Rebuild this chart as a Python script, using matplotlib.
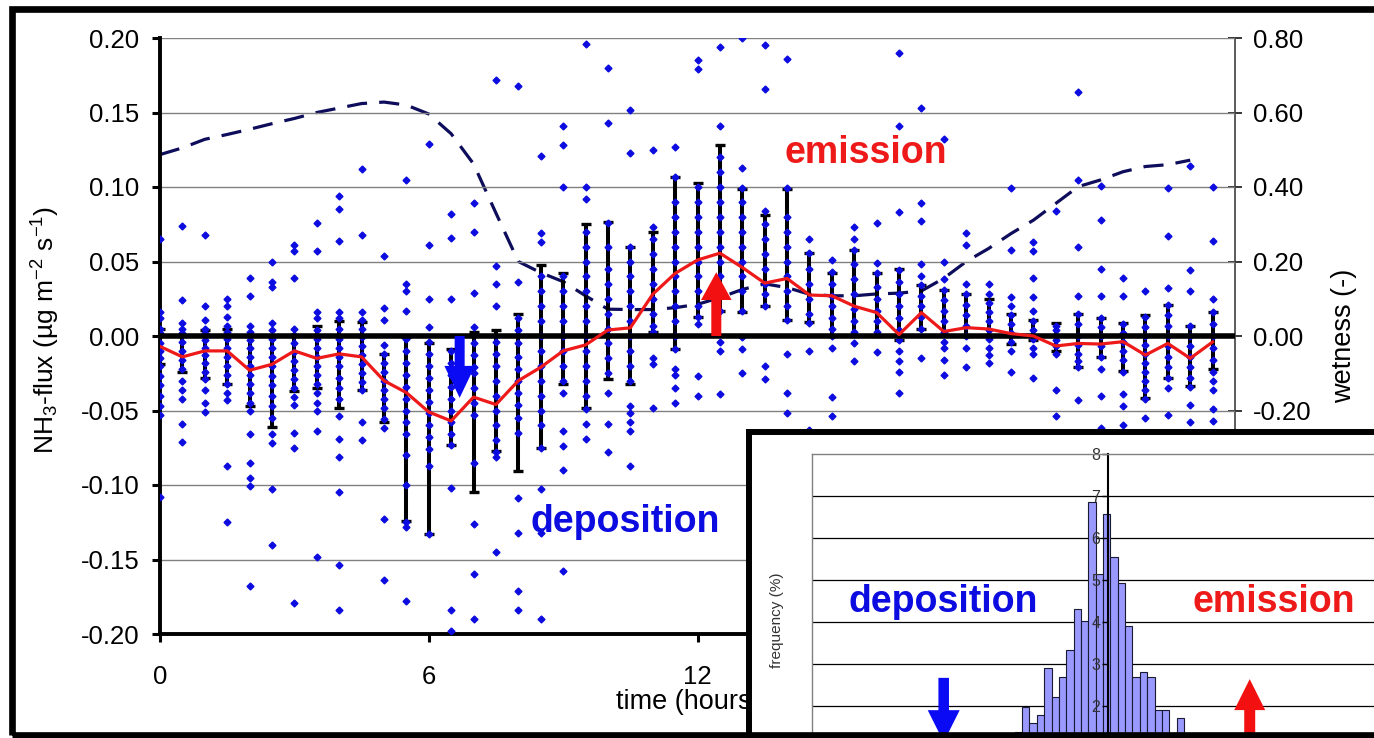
import numpy as np
import matplotlib.pyplot as plt
from matplotlib.ticker import FormatStrFormatter
from matplotlib.patches import Rectangle

plt.rcParams['font.family'] = ['Liberation Sans', 'DejaVu Sans']
plt.rcParams['mathtext.fontset'] = 'custom'
plt.rcParams['mathtext.rm'] = 'Liberation Sans'
plt.rcParams['mathtext.it'] = 'Liberation Sans:italic'

W, H = 1374, 738

# half-hourly time slots (hours)
times = np.arange(0, 24, 0.5)

# mean NH3 flux per half hour (red line)
flux_mean = [-0.007, -0.014, -0.010, -0.010, -0.023, -0.019, -0.010, -0.015, -0.012, -0.014,
             -0.030, -0.038, -0.051, -0.057, -0.041, -0.046, -0.030, -0.021, -0.010, -0.006,
             0.004, 0.0055, 0.028, 0.042, 0.051, 0.0556, 0.046, 0.0355, 0.0386, 0.0275,
             0.027, 0.020, 0.0157, 0.001, 0.0157, 0.003, 0.0056, 0.0047, 0.0016, 0.0,
             -0.0067, -0.005, -0.0054, -0.0038, -0.0128, -0.005, -0.015, -0.004]

# error bar ends
err_hi = [0.005, 0.0, 0.004, 0.005, 0.0, 0.0, 0.0, 0.007, 0.010, 0.0095,
          -0.012, -0.001, -0.005, -0.009, 0.003, 0.004, 0.0146, 0.0475, 0.042, 0.075,
          0.0765, 0.0595, 0.0695, 0.107, 0.1026, 0.128, 0.0987, 0.081, 0.0987, 0.0555,
          0.0425, 0.058, 0.042, 0.0447, 0.034, 0.031, 0.028, 0.0245, 0.015, 0.011,
          0.009, 0.0147, 0.0123, 0.0085, 0.014, 0.021, 0.007, 0.016]
err_lo = [-0.019, -0.024, -0.028, -0.032, -0.047, -0.061, -0.037, -0.035, -0.048, -0.036,
          -0.058, -0.124, -0.133, -0.073, -0.105, -0.0775, -0.0906, -0.0755, -0.032, -0.0486,
          -0.029, -0.032, 0.003, -0.009, 0.0125, 0.017, 0.016, 0.020, 0.0105, 0.0096,
          0.0, 0.0, 0.0, -0.003, 0.005, 0.001, 0.0, 0.0, -0.0055, -0.003,
          -0.010, -0.0207, -0.0143, -0.0234, -0.0415, -0.0283, -0.0333, -0.0221]

# canopy wetness (right axis, dashed)
wetness = [0.487, 0.505, 0.528, 0.541, 0.555, 0.570, 0.584, 0.600, 0.612, 0.624,
           0.628, 0.620, 0.596, 0.543, 0.462, 0.330, 0.200, 0.170, 0.146, 0.108,
           0.072, 0.071, 0.071, 0.076, 0.085, 0.103, 0.125, 0.140, 0.130, 0.112,
           0.108, 0.108, 0.113, 0.115, 0.121, 0.155, 0.200, 0.235, 0.275, 0.311,
           0.356, 0.401, 0.419, 0.441, 0.455, 0.460, 0.472, np.nan]

# individual flux measurements per half hour
flux_pts = [
    [0.065, 0.016, 0.012, 0.005, 0.002, -0.005, -0.010, -0.015, -0.020, -0.027, -0.033, -0.040, -0.047, -0.053, -0.108],
    [0.074, 0.024, 0.009, 0.005, 0.002, -0.004, -0.010, -0.016, -0.022, -0.030, -0.036, -0.042, -0.059, -0.071],
    [0.068, 0.020, 0.011, 0.005, 0.002, -0.003, -0.008, -0.013, -0.018, -0.024, -0.029, -0.036, -0.045, -0.051],
    [0.025, 0.020, 0.013, 0.007, 0.003, -0.002, -0.008, -0.014, -0.020, -0.026, -0.032, -0.038, -0.043, -0.087, -0.125],
    [0.039, 0.027, 0.007, 0.003, -0.003, -0.008, -0.014, -0.020, -0.026, -0.032, -0.038, -0.045, -0.050, -0.066, -0.085, -0.095, -0.101, -0.168],
    [0.050, 0.036, 0.033, 0.009, 0.004, -0.002, -0.008, -0.014, -0.020, -0.027, -0.033, -0.040, -0.047, -0.055, -0.066, -0.072, -0.103, -0.140],
    [0.061, 0.057, 0.039, 0.005, 0.001, -0.005, -0.011, -0.017, -0.023, -0.029, -0.035, -0.041, -0.046, -0.065, -0.075, -0.179],
    [0.076, 0.057, 0.016, 0.012, 0.004, -0.002, -0.008, -0.014, -0.020, -0.026, -0.032, -0.038, -0.045, -0.050, -0.064, -0.148],
    [0.094, 0.085, 0.064, 0.016, 0.012, 0.005, -0.002, -0.008, -0.014, -0.020, -0.028, -0.035, -0.042, -0.054, -0.069, -0.081, -0.105, -0.154, -0.184],
    [0.112, 0.068, 0.016, 0.011, 0.005, -0.001, -0.007, -0.013, -0.019, -0.025, -0.031, -0.036, -0.058, -0.070],
    [0.054, 0.019, 0.011, -0.006, -0.012, -0.018, -0.024, -0.030, -0.036, -0.042, -0.048, -0.056, -0.062, -0.123, -0.164],
    [0.105, 0.035, 0.030, 0.017, -0.002, -0.010, -0.018, -0.026, -0.034, -0.042, -0.050, -0.058, -0.066, -0.080, -0.100, -0.125, -0.128, -0.178],
    [0.129, 0.061, 0.025, 0.006, -0.004, -0.012, -0.020, -0.028, -0.036, -0.044, -0.052, -0.060, -0.068, -0.076, -0.087, -0.133],
    [0.082, 0.066, 0.025, -0.010, -0.018, -0.026, -0.034, -0.042, -0.050, -0.058, -0.066, -0.073, -0.102, -0.184, -0.198],
    [0.089, 0.070, 0.029, 0.006, -0.005, -0.013, -0.021, -0.025, -0.035, -0.045, -0.053, -0.085, -0.126, -0.160, -0.190],
    [0.172, 0.047, 0.035, 0.020, -0.004, -0.012, -0.020, -0.030, -0.040, -0.050, -0.060, -0.070, -0.078, -0.081, -0.145],
    [0.168, 0.036, 0.012, 0.004, -0.005, -0.014, -0.022, -0.030, -0.038, -0.046, -0.055, -0.065, -0.109, -0.132, -0.171, -0.184],
    [0.121, 0.069, 0.063, 0.040, 0.030, 0.020, 0.010, 0.000, -0.010, -0.020, -0.030, -0.040, -0.050, -0.060, -0.075, -0.103, -0.132, -0.190],
    [0.141, 0.128, 0.100, 0.040, 0.030, 0.020, 0.010, 0.000, -0.010, -0.020, -0.030, -0.038, -0.064, -0.074, -0.090, -0.158],
    [0.196, 0.100, 0.092, 0.070, 0.060, 0.050, 0.040, 0.030, 0.020, 0.010, 0.000, -0.010, -0.020, -0.030, -0.040, -0.049, -0.059, -0.069],
    [0.180, 0.143, 0.076, 0.060, 0.045, 0.035, 0.025, 0.015, 0.005, -0.005, -0.015, -0.025, -0.038, -0.059, -0.078],
    [0.152, 0.123, 0.060, 0.050, 0.040, 0.030, 0.020, 0.010, 0.000, -0.010, -0.020, -0.030, -0.047, -0.052, -0.058, -0.064, -0.087],
    [0.125, 0.073, 0.065, 0.055, 0.045, 0.035, 0.025, 0.015, 0.007, 0.003, -0.015, -0.019, -0.048],
    [0.127, 0.107, 0.090, 0.080, 0.070, 0.060, 0.050, 0.040, 0.030, 0.020, 0.010, 0.000, -0.009, -0.022, -0.026, -0.035, -0.045],
    [0.185, 0.179, 0.100, 0.090, 0.080, 0.070, 0.060, 0.050, 0.040, 0.030, 0.020, 0.013, 0.008, -0.027, -0.040],
    [0.194, 0.141, 0.120, 0.110, 0.100, 0.090, 0.080, 0.070, 0.060, 0.050, 0.040, 0.030, 0.017, -0.004, -0.010, -0.039],
    [0.200, 0.113, 0.099, 0.090, 0.080, 0.070, 0.060, 0.050, 0.040, 0.030, 0.017, -0.001, -0.009, -0.025],
    [0.195, 0.166, 0.084, 0.075, 0.065, 0.055, 0.045, 0.035, 0.028, 0.020, -0.020, -0.029],
    [0.186, 0.099, 0.080, 0.070, 0.060, 0.050, 0.040, 0.030, 0.020, 0.011, -0.012, -0.038, -0.052],
    [0.065, 0.056, 0.045, 0.035, 0.025, 0.015, 0.009, -0.010, -0.063],
    [0.051, 0.043, 0.035, 0.027, 0.020, 0.012, 0.005, 0.000, -0.008, -0.041, -0.054],
    [0.073, 0.065, 0.058, 0.048, 0.038, 0.028, 0.018, 0.010, 0.003, -0.005, -0.017],
    [0.076, 0.049, 0.042, 0.033, 0.025, 0.017, 0.010, 0.003, -0.011],
    [0.190, 0.141, 0.083, 0.044, 0.036, 0.028, 0.020, 0.012, 0.004, -0.003, -0.010, -0.017, -0.024, -0.038],
    [0.153, 0.089, 0.077, 0.048, 0.040, 0.034, 0.027, 0.020, 0.013, 0.005, -0.015],
    [0.132, 0.050, 0.038, 0.031, 0.024, 0.017, 0.010, 0.003, -0.004, -0.008, -0.016, -0.026],
    [0.069, 0.061, 0.035, 0.028, 0.021, 0.014, 0.007, 0.000, -0.008, -0.021],
    [0.035, 0.028, 0.022, 0.016, 0.010, 0.004, -0.002, -0.008, -0.013, -0.018],
    [0.099, 0.058, 0.026, 0.020, 0.014, 0.008, 0.002, -0.004, -0.010, -0.024],
    [0.063, 0.057, 0.039, 0.026, 0.017, 0.010, 0.004, -0.002, -0.008, -0.012, -0.028],
    [0.084, 0.007, 0.004, 0.000, -0.003, -0.007, -0.012, -0.036, -0.054],
    [0.164, 0.105, 0.060, 0.027, 0.015, 0.008, 0.000, -0.006, -0.012, -0.017, -0.021, -0.043],
    [0.101, 0.078, 0.045, 0.027, 0.012, 0.006, 0.000, -0.007, -0.014, -0.022, -0.040, -0.062],
    [0.039, 0.027, 0.008, 0.002, -0.004, -0.010, -0.016, -0.024, -0.039, -0.047, -0.060],
    [0.030, 0.013, 0.006, 0.000, -0.006, -0.012, -0.018, -0.024, -0.030, -0.036, -0.042, -0.055],
    [0.099, 0.067, 0.032, 0.021, 0.014, 0.007, 0.000, -0.007, -0.014, -0.021, -0.028, -0.035, -0.053],
    [0.114, 0.044, 0.030, 0.007, 0.000, -0.007, -0.014, -0.021, -0.028, -0.034, -0.046, -0.058],
    [0.100, 0.064, 0.025, 0.016, 0.008, 0.000, -0.008, -0.016, -0.024, -0.030, -0.036, -0.049, -0.057],
]

# inset histogram: frequency (%) of the visible classes
hist_freq = [1.39, 1.98, 1.59, 1.79, 2.90, 2.22, 2.70, 3.33, 4.31, 4.03, 6.85, 5.14,
             6.56, 5.54, 4.94, 3.91, 2.70, 2.80, 2.70, 1.90, 1.90, 1.31, 1.71, 1.31]
hist_bins = np.arange(len(hist_freq))

flux_ticks = [-0.2, -0.15, -0.1, -0.05, 0, 0.05, 0.1, 0.15, 0.2]
wet_ticks = [-0.8, -0.6, -0.4, -0.2, 0, 0.2, 0.4, 0.6, 0.8]
hour_ticks = [0, 6, 12, 18, 24]
freq_ticks = [2, 3, 4, 5, 6, 7, 8]

BLUE = '#0c0ce0'
RED = '#ee1a1a'

fig = plt.figure(figsize=(W / 100, H / 100), dpi=100)

# ---- main chart
ax = fig.add_axes([160 / W, 104 / H, 1075 / W, 596 / H])
ax2 = ax.twinx()
ax.set_zorder(ax2.get_zorder() + 1)
ax.patch.set_visible(False)

ax2.plot(times, wetness, color='#0d0d5c', lw=2.3, ls=(0, (6.3, 3.8)))
ax2.set_ylim(-0.8, 0.8)
ax2.set_yticks(wet_ticks)
ax2.yaxis.set_major_formatter(FormatStrFormatter('%.2f'))
for s in ['top', 'left', 'bottom']:
    ax2.spines[s].set_visible(False)
ax2.spines['right'].set_color('#404040')
ax2.spines['right'].set_linewidth(1.2)
ax2.tick_params(axis='y', direction='inout', length=10, width=1.1, labelsize=18.5, pad=8)
ax2.set_ylabel('wetness (-)', fontsize=19.5)
ax2.yaxis.set_label_coords(1.089, 0.5)

ax.vlines(times, err_lo, err_hi, color='black', lw=2.9, zorder=2)
ax.plot(times, err_lo, ls='none', marker='_', ms=6.5, mew=2.4, color='black', zorder=2)
ax.plot(times, err_hi, ls='none', marker='_', ms=6.5, mew=2.4, color='black', zorder=2)
for t, vals in zip(times, flux_pts):
    ax.plot(np.full(len(vals), t), vals, ls='none', marker='D', ms=3.5, color=BLUE, zorder=3)
ax.axhline(0, color='black', lw=4, zorder=3.5)
ax.plot(times, flux_mean, color=RED, lw=2.3, zorder=4)

ax.set_xlim(0, 24)
ax.set_ylim(-0.2, 0.2)
ax.set_xticks(hour_ticks)
ax.set_yticks(flux_ticks)
ax.yaxis.set_major_formatter(FormatStrFormatter('%.2f'))
ax.yaxis.grid(True, color='#808080', lw=1.0)
ax.set_axisbelow(True)
ax.spines['top'].set_visible(False)
ax.spines['right'].set_visible(False)
ax.spines['left'].set_linewidth(2.8)
ax.spines['bottom'].set_linewidth(2.8)
ax.tick_params(axis='y', direction='out', length=6, width=2.2, labelsize=18.5, pad=9)
ax.tick_params(axis='x', direction='out', length=6, width=2.2, labelsize=18.5, pad=16)
ax.set_ylabel(r'NH$_3$-flux (µg m$^{-2}$ s$^{-1}$)', fontsize=19)
ax.yaxis.set_label_coords(-0.091, 0.51)
ax.set_xlabel('time (hours)', fontsize=19.5, ha='left')
ax.xaxis.set_label_coords(0.4245, -0.092)

ax.text(15.75, 0.116, 'emission', color=RED, fontsize=27, fontweight='bold',
        ha='center', va='baseline', zorder=6)
ax.text(10.38, -0.1315, 'deposition', color=BLUE, fontsize=27, fontweight='bold',
        ha='center', va='baseline', zorder=6)
ax.annotate('', xy=(6.69, -0.0415), xytext=(6.69, 0.0),
            arrowprops=dict(arrowstyle='simple,head_length=2.3,head_width=2.2,tail_width=0.72',
                            mutation_scale=10, color='#0a0af5', lw=0, shrinkA=0, shrinkB=0),
            zorder=7)
ax.annotate('', xy=(12.42, 0.0428), xytext=(12.42, 0.0),
            arrowprops=dict(arrowstyle='simple,head_length=2.0,head_width=2.2,tail_width=0.72',
                            mutation_scale=10, color='#f21010', lw=0, shrinkA=0, shrinkB=0),
            zorder=7)

# ---- inset frame
ax_f = fig.add_axes([749 / W, -40 / H, 800 / W, (738 - 432 + 40) / H], zorder=3)
ax_f.set_xticks([])
ax_f.set_yticks([])
for s in ax_f.spines.values():
    s.set_linewidth(4.3)
    s.set_color('black')

# ---- inset histogram
x_left = -27.6
ax_in = fig.add_axes([811.6 / W, (738 - 790) / H, 644.7 / W, 336 / H], zorder=4)
ax_in.patch.set_visible(False)
ax_in.bar(hist_bins, hist_freq, width=1, align='edge', color='#9999ff',
          edgecolor='#1a1a33', lw=0.8, zorder=1)
for g in range(1, 8):
    ax_in.axhline(g, color='black', lw=0.9, zorder=0.5)
ax_in.axvline(x_left, color='#808080', lw=1.0, clip_on=False)
ax_in.set_xlim(x_left, 60)
ax_in.set_ylim(0, 8)
ax_in.set_xticks([])
ax_in.set_yticks(freq_ticks)
ax_in.spines['left'].set_position(('data', 12.74))
ax_in.spines['left'].set_linewidth(1.5)
ax_in.spines['right'].set_visible(False)
ax_in.spines['bottom'].set_visible(False)
ax_in.spines['top'].set_color('#808080')
ax_in.spines['top'].set_linewidth(1.0)
ax_in.tick_params(axis='y', direction='out', length=4, width=1, labelsize=11.5, pad=2,
                  labelcolor='#333333')
ax_in.set_ylabel('frequency (%)', fontsize=11, color='#333333')
ax_in.yaxis.set_label_coords(-0.0428, 0.506)

ax_in.text(-9.65, 4.25, 'deposition', color=BLUE, fontsize=27, fontweight='bold',
           ha='center', va='baseline', zorder=6)
ax_in.text(35.2, 4.25, 'emission', color=RED, fontsize=27, fontweight='bold',
           ha='center', va='baseline', zorder=6)
ax_in.annotate('', xy=(-9.65, 1.14), xytext=(-9.65, 2.67),
               arrowprops=dict(arrowstyle='simple,head_length=2.3,head_width=2.3,tail_width=0.76',
                               mutation_scale=10, color='#0a0af5', lw=0, shrinkA=0, shrinkB=0))
ax_in.annotate('', xy=(31.93, 2.64), xytext=(31.93, 0.3),
               arrowprops=dict(arrowstyle='simple,head_length=2.23,head_width=2.23,tail_width=0.79',
                               mutation_scale=10, color='#f21010', lw=0, shrinkA=0, shrinkB=0))

# ---- outer frame
fig.add_artist(Rectangle((11.5 / W, 3.5 / H), 1500 / W, 725.3 / H, transform=fig.transFigure,
                         fill=False, ec='black', lw=4.8, zorder=10))

fig.savefig('out.png', dpi=100)
